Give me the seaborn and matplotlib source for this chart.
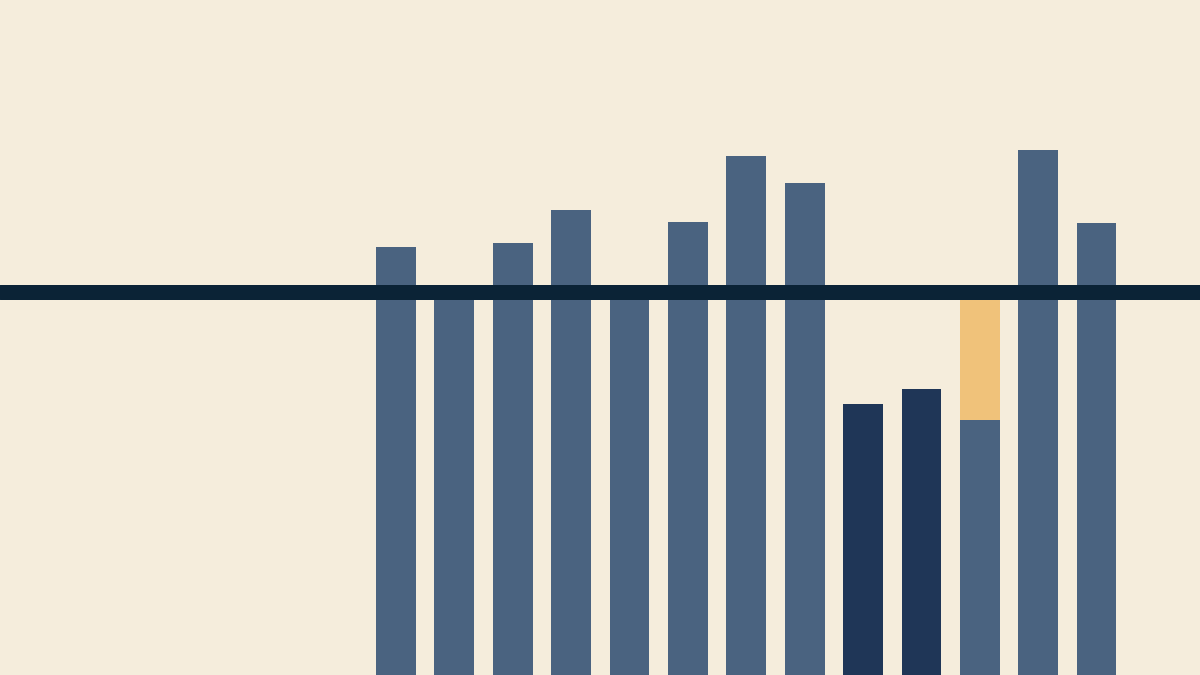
#!/usr/bin/env python3

import matplotlib
matplotlib.use("Agg")
import matplotlib.pyplot as plt
import seaborn as sns
import pandas as pd

# bar values (0 = bottom of chart, 100 = top)
periods = [f"P{i}" for i in range(1, 14)]
values = [63.4, 56.3, 64.0, 68.9, 56.3, 67.1, 76.9, 72.9, 40.1, 42.4, 37.8, 77.8, 67.0]
extra = [0, 0, 0, 0, 0, 0, 0, 0, 0, 0, 18.5, 0, 0]
kinds = ["base"] * 8 + ["low", "low"] + ["base"] * 3
target = 56.8

BG = "#f5eddc"
colors = {"base": "#4a6380", "low": "#1f3657"}
ORANGE = "#f0c27a"
LINE = "#0b2336"

df = pd.DataFrame({"period": periods, "value": values, "extra": extra, "kind": kinds})
df["total"] = df["value"] + df["extra"]

sns.set_theme(style="white")
fig = plt.figure(figsize=(12, 6.75), dpi=100)
fig.patch.set_facecolor(BG)
ax = fig.add_axes([0, 0, 1, 1])
ax.set_facecolor(BG)

# stacked top segment first, then base bars over it
sns.barplot(data=df, x="period", y="total", color=ORANGE, width=0.68,
            saturation=1, linewidth=0, ax=ax, zorder=1)
sns.barplot(data=df, x="period", y="value", hue="kind", palette=colors,
            width=0.68, dodge=False, saturation=1, linewidth=0,
            legend=False, ax=ax, zorder=2)

ax.axhline(target, color=LINE, linewidth=10.8, zorder=3)

ax.set_xlim(-6.78, 13.77)
ax.set_ylim(0, 100)
ax.set_axis_off()

fig.savefig("out.png", dpi=100, facecolor=BG)
